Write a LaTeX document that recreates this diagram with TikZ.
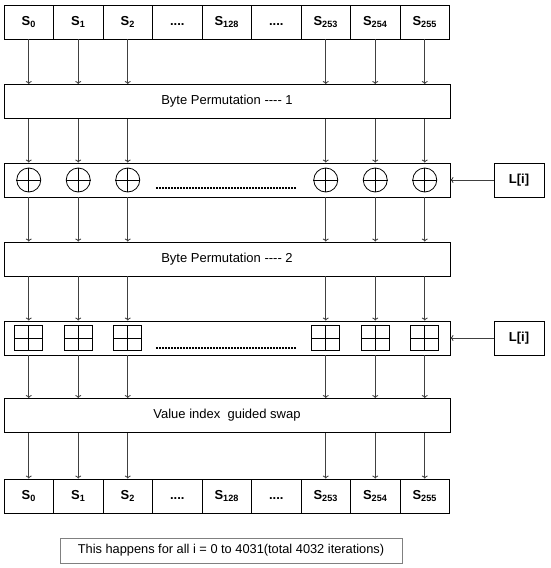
\documentclass[tikz,border=0pt]{standalone}
\usepackage{fontspec}
\setmainfont{Liberation Sans}
\usetikzlibrary{arrows.meta}
\newcommand\mydotstext{\vphantom{S\textsubscript{0}}....}
\begin{document}
\begin{tikzpicture}[x=1pt,y=-1pt,
  line width=0.8pt,
  cell/.style={draw, minimum width=49.5pt, minimum height=34pt, inner sep=0pt, font=\bfseries\fontsize{13}{15}\selectfont},
  wide/.style={draw, minimum width=446pt, minimum height=34pt, inner sep=0pt, font=\fontsize{13}{15}\selectfont},
  keybox/.style={draw, minimum width=50pt, minimum height=34pt, inner sep=0pt, font=\bfseries\fontsize{13}{15}\selectfont},
  xorc/.style={draw, circle, minimum size=24pt, inner sep=0pt},
  gridc/.style={draw, minimum width=28pt, minimum height=25pt, inner sep=0pt},
  arr/.style={draw=black!75, line width=0.8pt, -{To[length=3pt,width=6pt]}},
  dotsline/.style={line width=2.4pt, dash pattern=on 1.8pt off 1.2pt}
]
\useasboundingbox (0,0) rectangle (550,568);

% top and bottom rows
\foreach \k/\t in {0/S\textsubscript{0},1/S\textsubscript{1},2/S\textsubscript{2},3/\mydotstext,4/S\textsubscript{128},5/\mydotstext,6/S\textsubscript{253},7/S\textsubscript{254},8/S\textsubscript{255}}{
  \node[cell] (t\k) at ({4+49.5*(\k+0.5)},22) {\t};
  \node[cell] (b\k) at ({4+49.5*(\k+0.5)},496) {\t};
}

\node[wide] (bp1) at (227,101.5) {Byte Permutation -{}-{}-{}- 1};
\node[wide] (xr) at (227,180) {};
\node[wide] (bp2) at (227,259) {Byte Permutation -{}-{}-{}- 2};
\node[wide] (gr) at (227,338) {};
\node[wide] (vi) at (227,415.5) {Value index\ \ guided swap};

\node[keybox] (l1) at (519,180) {L[i]};
\node[keybox] (l2) at (519,338) {L[i]};

\node[draw=black!50, minimum width=342pt, minimum height=25pt, inner sep=0pt, font=\fontsize{12.8}{15}\selectfont] (note) at (231,550.5) {This happens for all i = 0 to 4031(total 4032 iterations)};

% xor circles and grids
\foreach \k in {0,1,2,6,7,8}{
  \node[xorc] (c\k) at (t\k |- xr) {};
  \draw (c\k.north) -- (c\k.south) (c\k.west) -- (c\k.east);
  \node[gridc] (g\k) at (t\k |- gr) {};
  \draw (g\k.north) -- (g\k.south) (g\k.west) -- (g\k.east);
  \draw[arr] (t\k.south) -- (t\k.south |- bp1.north);
  \draw[arr] (t\k |- bp1.south) -- (t\k |- xr.north);
  \draw[arr] (t\k |- xr.south) -- (t\k |- bp2.north);
  \draw[arr] (t\k |- bp2.south) -- (t\k |- gr.north);
  \draw[arr] (t\k |- gr.south) -- (t\k |- vi.north);
  \draw[arr] (t\k |- vi.south) -- (b\k.north);
}

\coordinate (d1a) at (156,188);
\coordinate (d1b) at (296,188);
\draw[dotsline] (d1a) -- (d1b);
\coordinate (d2a) at (156,348);
\coordinate (d2b) at (296,348);
\draw[dotsline] (d2a) -- (d2b);

\draw[arr] (l1.west) -- (xr.east);
\draw[arr] (l2.west) -- (gr.east);
\end{tikzpicture}
\end{document}
